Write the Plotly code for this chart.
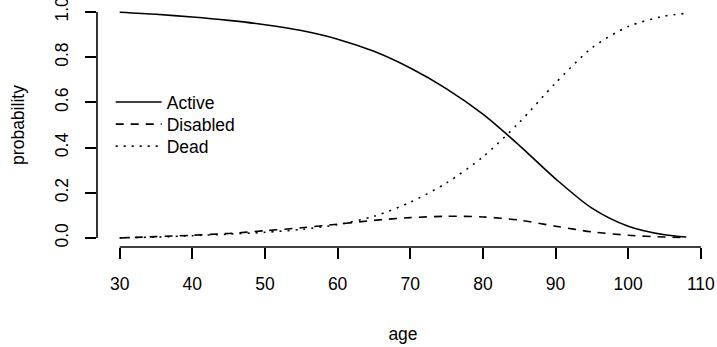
import plotly.graph_objects as go

ages = [30, 35, 40, 45, 50, 55, 60, 65, 70, 75, 80, 85, 90, 95, 100, 105, 108]
active = [0.999, 0.990, 0.978, 0.963, 0.944, 0.918, 0.880, 0.826, 0.752, 0.660, 0.548, 0.410, 0.262, 0.132, 0.052, 0.014, 0.004]
disabled = [0.000, 0.006, 0.012, 0.020, 0.032, 0.045, 0.061, 0.078, 0.090, 0.096, 0.093, 0.079, 0.052, 0.027, 0.012, 0.004, 0.002]
dead = [0.001, 0.004, 0.010, 0.017, 0.025, 0.038, 0.059, 0.096, 0.158, 0.244, 0.359, 0.511, 0.686, 0.841, 0.936, 0.982, 0.994]

series_names = ["Active", "Disabled", "Dead"]
series_dash = ["solid", "8px,7px", "2px,6px"]
legend_ids = ["legend", "legend2", "legend3"]
legend_rows_y = [0.594, 0.503, 0.413]

x_ticks = [30, 40, 50, 60, 70, 80, 90, 100, 110]
y_ticks = [0.0, 0.2, 0.4, 0.6, 0.8, 1.0]
y_tick_text = ["0.0", "0.2", "0.4", "0.6", "0.8", "1.0"]

FONT = "Liberation Sans, Arial, Helvetica, sans-serif"
FS = 17.5
LW = 1.6

fig = go.Figure()
for name, vals, dash, lg in zip(series_names, [active, disabled, dead], series_dash, legend_ids):
    fig.add_trace(go.Scatter(
        x=ages, y=vals, mode="lines", name=name, legend=lg,
        line=dict(color="black", width=LW, dash=dash, shape="spline", smoothing=0.8),
    ))

xr = [30 - 0.04 * 78, 108 + 0.04 * 78]
yr = [-0.04, 1.04]

legend_style = dict(x=0.0224, xanchor="left", yanchor="middle",
                    bgcolor="rgba(0,0,0,0)", borderwidth=0, itemwidth=46,
                    font=dict(family=FONT, size=FS, color="black"))
legends = {lg: dict(legend_style, y=yy) for lg, yy in zip(legend_ids, legend_rows_y)}

fig.update_layout(
    width=717, height=347,
    margin=dict(l=97.3, r=7.8, t=3, b=100, autoexpand=False),
    paper_bgcolor="white", plot_bgcolor="white",
    font=dict(family=FONT, size=FS, color="black"),
    showlegend=True,
    xaxis=dict(range=xr, tickmode="array", tickvals=x_ticks,
               ticktext=[str(v) for v in x_ticks],
               ticks="outside", ticklen=11, tickwidth=LW, tickcolor="black",
               showgrid=False, zeroline=False, showline=False,
               ticklabelstandoff=10, ticklabeloverflow="allow",
               title=dict(text="age", standoff=34, font=dict(size=FS))),
    yaxis=dict(range=yr, tickmode="array", tickvals=y_ticks, ticktext=y_tick_text,
               ticks="outside", ticklen=11, tickwidth=LW, tickcolor="black",
               tickangle=-90,
               showgrid=False, zeroline=False, showline=False,
               ticklabelstandoff=10, ticklabeloverflow="allow",
               title=dict(text="probability", standoff=22, font=dict(size=FS))),
    **legends,
)

# axis lines spanning the tick range only (R base style)
fig.add_shape(type="line", xref="x", yref="paper", x0=x_ticks[0], x1=x_ticks[-1], y0=0, y1=0,
              line=dict(color="black", width=LW))
fig.add_shape(type="line", xref="paper", yref="y", x0=0, x1=0, y0=y_ticks[0], y1=y_ticks[-1],
              line=dict(color="black", width=LW))

fig.write_html("out.html", config={"displayModeBar": False},
               post_script="document.body.style.margin='0';")
